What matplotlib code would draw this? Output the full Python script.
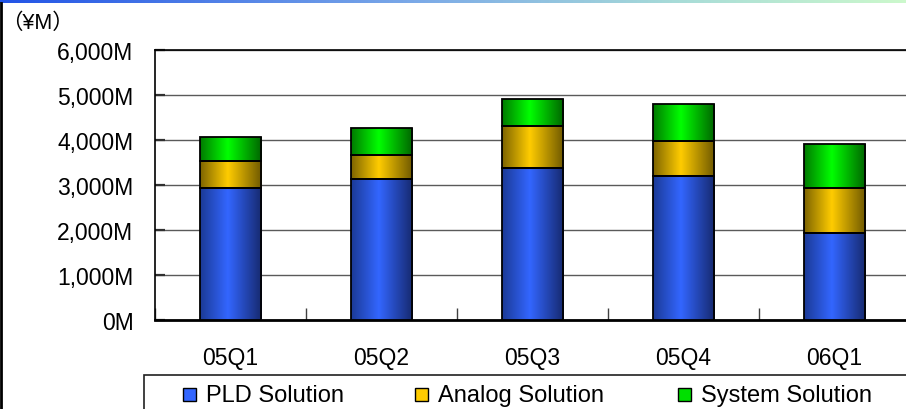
import matplotlib
matplotlib.use("Agg")
import matplotlib.pyplot as plt
import numpy as np
from matplotlib.colors import LinearSegmentedColormap
from matplotlib.patches import Rectangle
from matplotlib.lines import Line2D

# ---- data -------------------------------------------------------------
quarters = ["05Q1", "05Q2", "05Q3", "05Q4", "06Q1"]
pld_solution = [2930, 3130, 3370, 3200, 1935]
analog_solution = [590, 535, 940, 765, 1000]
system_solution = [535, 585, 595, 820, 965]
series_names = ["PLD Solution", "Analog Solution", "System Solution"]
y_ticks = [0, 1000, 2000, 3000, 4000, 5000, 6000]
y_tick_labels = ["0M", "1,000M", "2,000M", "3,000M", "4,000M", "5,000M", "6,000M"]
unit_label = "（¥M）"

# ---- style ------------------------------------------------------------
FONT = ["Liberation Sans", "Noto Sans CJK JP", "DejaVu Sans"]
plt.rcParams["font.family"] = FONT

# (edge-dark, centre-bright, edge-dark) for the cylinder-like shading
shades = [
    ("#1b3a96", "#3366ff", "#16296e"),
    ("#7d6400", "#ffcc00", "#6e5800"),
    ("#007a00", "#00ff00", "#006400"),
]
legend_colors = ["#3366ff", "#ffcc00", "#00e000"]

W, H = 906, 410
fig = plt.figure(figsize=(W / 100, H / 100), dpi=100)
fig.patch.set_facecolor("white")

# plot area in pixel terms
left_px, right_px, top_px, bottom_px = 155, 910, 50.7, 320.7
ax = fig.add_axes([left_px / W, (H - bottom_px) / H,
                   (right_px - left_px) / W, (bottom_px - top_px) / H])

x = np.arange(len(quarters))
bar_width = 0.41
grad = np.linspace(0, 1, 256).reshape(1, -1)
bottom = np.zeros(len(quarters))

for vals, (c0, c1, c2) in zip([pld_solution, analog_solution, system_solution], shades):
    cmap = LinearSegmentedColormap.from_list(
        "shade", [(0.0, c0), (0.45, c1), (1.0, c2)])
    bars = ax.bar(x, vals, width=bar_width, bottom=bottom,
                  facecolor="none", edgecolor="black", linewidth=1.3, zorder=4)
    for b in bars:
        x0, y0, w, h = b.get_x(), b.get_y(), b.get_width(), b.get_height()
        im = ax.imshow(grad, cmap=cmap, extent=[x0, x0 + w, y0, y0 + h],
                       aspect="auto", interpolation="bilinear", zorder=3)
        im.set_clip_path(b)
    bottom += np.array(vals)

ax.set_xlim(-0.5, len(quarters) - 0.5)
ax.set_ylim(0, 6000)

# gridlines
ax.set_yticks(y_ticks)
ax.set_yticklabels(y_tick_labels)
ax.yaxis.grid(True, color="#5a5a5a", linewidth=1.0, zorder=1)
ax.set_axisbelow(True)

# category labels centred, ticks on category boundaries
ax.set_xticks(x)
ax.set_xticklabels(quarters)
ax.set_xticks(np.arange(-0.5, len(quarters)), minor=True)
ax.tick_params(axis="x", which="major", length=0, pad=19, labelsize=16.5)
ax.tick_params(axis="x", which="minor", direction="in", length=9,
               width=1.0, color="#404040")
ax.tick_params(axis="y", direction="in", length=7, width=1.6, color="#303030",
               pad=15.5, labelsize=16.5)

for side in ["left", "top", "right"]:
    ax.spines[side].set_color("black")
    ax.spines[side].set_linewidth(1.2)
ax.spines["bottom"].set_color("black")
ax.spines["bottom"].set_linewidth(2.0)

# unit caption
fig.text(1 / W, 1 - 23 / H, unit_label, fontsize=15.5, ha="left", va="center",
         family=FONT)

# legend frame and entries
fig.add_artist(Rectangle((144 / W, -0.05), (910 - 144) / W, (H - 375.5) / H + 0.05,
                         transform=fig.transFigure, facecolor="white",
                         edgecolor="#202020", linewidth=1.2))
marker_x = [183, 415, 678]
text_x = [206, 438, 701]
entry_y = 396.5
for name, col, mx, tx in zip(series_names, legend_colors, marker_x, text_x):
    fig.add_artist(Rectangle((mx / W, (H - 395.5 - 6.5) / H), 12.5 / W, 13 / H,
                             transform=fig.transFigure, facecolor=col,
                             edgecolor="black", linewidth=1.0))
    fig.text(tx / W, 1 - entry_y / H, name, fontsize=17, ha="left",
             va="center")

# decorative top band and left rule
band = fig.add_axes([0, 1 - 3.5 / H, 1, 3.5 / H])
band_cmap = LinearSegmentedColormap.from_list(
    "band", [(0.0, "#2254e6"), (0.45, "#7aa8e8"), (0.75, "#a8dcd8"), (1.0, "#ccf8cc")])
band.imshow(grad, cmap=band_cmap, aspect="auto", extent=[0, 1, 0, 1])
band.set_axis_off()
fig.add_artist(Line2D([1 / W, 1 / W], [0, 1 - 3.5 / H], transform=fig.transFigure,
                      color="black", linewidth=2.0))

fig.savefig("out.png", dpi=100)
